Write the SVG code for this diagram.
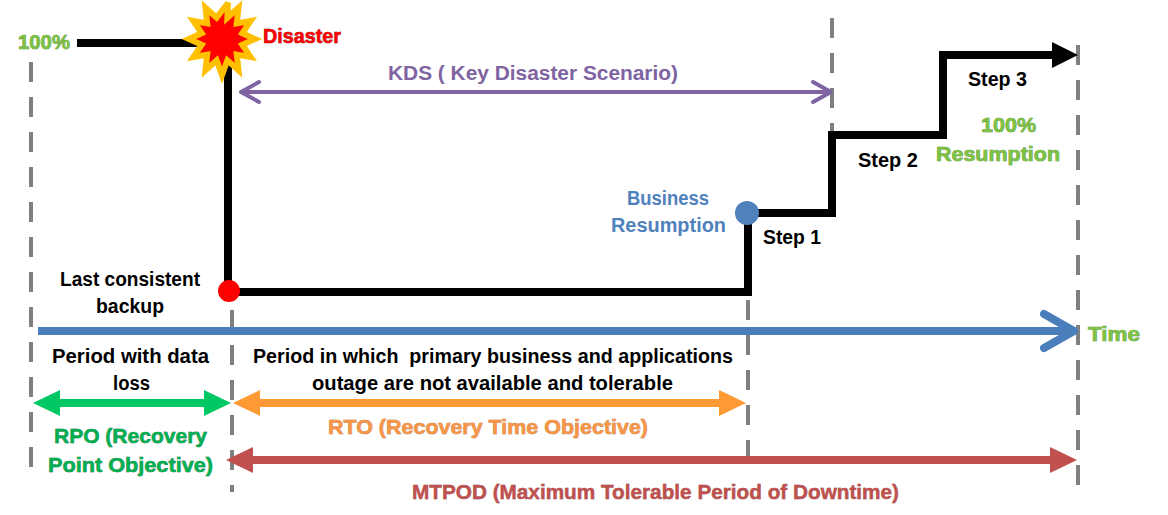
<svg xmlns="http://www.w3.org/2000/svg" width="1168" height="515" viewBox="0 0 1168 515">
<style>
text{font-family:"Liberation Sans",Arial,sans-serif;font-weight:bold;font-size:20px;}
.blk{fill:#000;}
.grn{fill:#7CC243;stroke:#4E7F2A;stroke-width:0.6;paint-order:stroke;}
.red{fill:#FF0000;stroke:#7A0000;stroke-width:0.6;paint-order:stroke;}
.pur{fill:#7F64A2;}
.blu{fill:#4F81BD;}
.org{fill:#F79646;stroke:#B0601C;stroke-width:0.5;paint-order:stroke;}
.rpo{fill:#00B050;stroke:#00602A;stroke-width:0.5;paint-order:stroke;}
.mtp{fill:#C0504D;stroke:#7A2A28;stroke-width:0.4;paint-order:stroke;}
.dash{stroke:#808080;stroke-width:4;stroke-dasharray:20 15;fill:none;}
.step{stroke:#000;stroke-width:8;fill:none;stroke-linejoin:miter;}
</style>
<defs>
<marker id="mBlack" markerUnits="userSpaceOnUse" markerWidth="30" markerHeight="30" refX="0" refY="13" orient="auto"><path d="M0,0 L26,13 L0,26 Z" fill="#000"/></marker>
<marker id="mGreen" markerUnits="userSpaceOnUse" markerWidth="30" markerHeight="30" refX="0" refY="13" orient="auto-start-reverse"><path d="M0,0 L27,13 L0,26 Z" fill="#00C864"/></marker>
<marker id="mOrange" markerUnits="userSpaceOnUse" markerWidth="30" markerHeight="30" refX="0" refY="13" orient="auto-start-reverse"><path d="M0,0 L27,13 L0,26 Z" fill="#FF9933"/></marker>
<marker id="mRed" markerUnits="userSpaceOnUse" markerWidth="30" markerHeight="30" refX="0" refY="13" orient="auto-start-reverse"><path d="M0,0 L27,13 L0,26 Z" fill="#C0504D"/></marker>
<marker id="mPurple" markerUnits="userSpaceOnUse" markerWidth="30" markerHeight="30" refX="22" refY="13" orient="auto-start-reverse"><path d="M3,3 L21,13 L3,23" fill="none" stroke="#8064A2" stroke-width="4" stroke-linecap="round" stroke-linejoin="round"/></marker>
<marker id="mBlue" markerUnits="userSpaceOnUse" markerWidth="44" markerHeight="44" refX="36" refY="22" orient="auto"><path d="M5,5 L35,22 L5,39" fill="none" stroke="#4A7EBB" stroke-width="8" stroke-linecap="round" stroke-linejoin="round"/></marker>
</defs>

<g id="guides">
<line class="dash" x1="31" y1="62" x2="31" y2="467"/>
<line class="dash" x1="232" y1="310" x2="232" y2="492"/>
<line class="dash" x1="748" y1="300" x2="748" y2="468"/>
<line class="dash" x1="832" y1="18" x2="832" y2="152"/>
<line class="dash" x1="1078" y1="45" x2="1078" y2="485"/>
</g>

<g id="connectors">
<path class="step" d="M77,43 H212"/>
<path class="step" d="M228,55 V292 H748 V213 H832 V135 H943 V55 H1052" marker-end="url(#mBlack)"/>
<line x1="240" y1="92" x2="832" y2="92" stroke="#8064A2" stroke-width="4" marker-start="url(#mPurple)" marker-end="url(#mPurple)"/>
<line x1="38" y1="331" x2="1075" y2="331" stroke="#4A7EBB" stroke-width="8" marker-end="url(#mBlue)"/>
<line x1="60" y1="403" x2="204" y2="403" stroke="#00C864" stroke-width="8" marker-start="url(#mGreen)" marker-end="url(#mGreen)"/>
<line x1="260" y1="403" x2="719" y2="403" stroke="#FF9933" stroke-width="8" marker-start="url(#mOrange)" marker-end="url(#mOrange)"/>
<line x1="253" y1="460" x2="1050" y2="460" stroke="#C0504D" stroke-width="8" marker-start="url(#mRed)" marker-end="url(#mRed)"/>
</g>

<g id="start">
<text class="grn" x="18" y="49" textLength="52" lengthAdjust="spacingAndGlyphs">100%</text>
</g>

<g id="disaster">
<polygon points="228,3 227.4,17.7 238.5,7.8 236.8,23.4 250.6,21 242.3,33.3 255,39 242.3,44.7 250.6,57 236.8,54.6 238.5,70.2 227.4,60.3 222,75 216.6,60.3 205.5,70.2 207.2,54.6 193.4,57 201.7,44.7 189,39 201.7,33.3 193.4,21 207.2,23.4 205.5,7.8 216.6,17.7" fill="#FF0000" stroke="#FFC000" stroke-width="6" stroke-linejoin="miter" stroke-miterlimit="3"/>
<text class="red" x="263" y="43" textLength="78" lengthAdjust="spacingAndGlyphs">Disaster</text>
</g>

<g id="kds">
<text class="pur" x="388" y="80" textLength="290" lengthAdjust="spacingAndGlyphs">KDS ( Key Disaster Scenario)</text>
</g>

<g id="backup">
<circle cx="229" cy="291" r="11" fill="#FF0000"/>
<text class="blk" x="60" y="286" textLength="140" lengthAdjust="spacingAndGlyphs">Last consistent</text>
<text class="blk" x="96" y="313" textLength="68" lengthAdjust="spacingAndGlyphs">backup</text>
</g>

<g id="business">
<circle cx="747" cy="213" r="12" fill="#4F81BD"/>
<text class="blu" x="627" y="205" textLength="82" lengthAdjust="spacingAndGlyphs">Business</text>
<text class="blu" x="611" y="232" textLength="115" lengthAdjust="spacingAndGlyphs">Resumption</text>
</g>

<g id="step1"><text class="blk" x="763" y="244" textLength="58" lengthAdjust="spacingAndGlyphs">Step 1</text></g>
<g id="step2"><text class="blk" x="858" y="167" textLength="60" lengthAdjust="spacingAndGlyphs">Step 2</text></g>
<g id="step3"><text class="blk" x="968" y="86" textLength="59" lengthAdjust="spacingAndGlyphs">Step 3</text></g>

<g id="full">
<text class="grn" x="981" y="132" textLength="55" lengthAdjust="spacingAndGlyphs">100%</text>
<text class="grn" x="936" y="161" textLength="124" lengthAdjust="spacingAndGlyphs">Resumption</text>
</g>

<g id="time"><text class="grn" x="1088" y="341" textLength="52" lengthAdjust="spacingAndGlyphs">Time</text></g>

<g id="rpo">
<text class="blk" x="52" y="363" textLength="157" lengthAdjust="spacingAndGlyphs">Period with data</text>
<text class="blk" x="113" y="390" textLength="37" lengthAdjust="spacingAndGlyphs">loss</text>
<text class="rpo" x="54" y="443" textLength="153" lengthAdjust="spacingAndGlyphs">RPO (Recovery</text>
<text class="rpo" x="48" y="472" textLength="165" lengthAdjust="spacingAndGlyphs">Point Objective)</text>
</g>

<g id="rto">
<text class="blk" x="253" y="363" textLength="480" lengthAdjust="spacingAndGlyphs" xml:space="preserve">Period in which  primary business and applications</text>
<text class="blk" x="312" y="390" textLength="361" lengthAdjust="spacingAndGlyphs">outage are not available and tolerable</text>
<text class="org" x="328" y="434" textLength="320" lengthAdjust="spacingAndGlyphs">RTO (Recovery Time Objective)</text>
</g>

<g id="mtpod">
<text class="mtp" x="412" y="499" textLength="487" lengthAdjust="spacingAndGlyphs">MTPOD (Maximum Tolerable Period of Downtime)</text>
</g>
</svg>
